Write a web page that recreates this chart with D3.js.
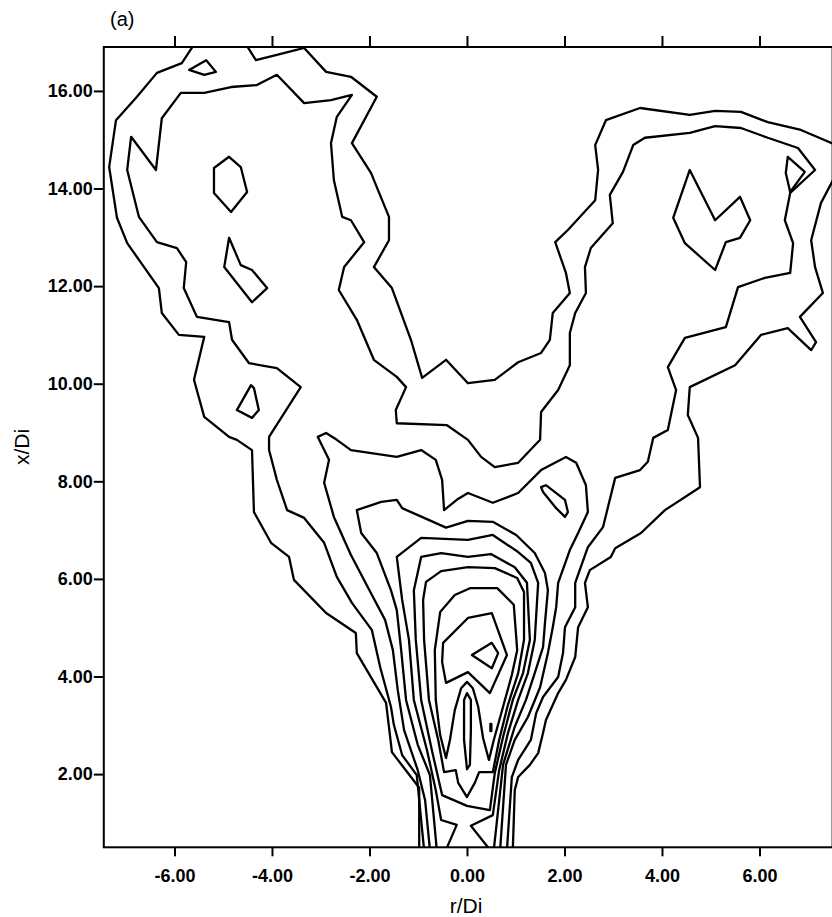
<!DOCTYPE html>
<html>
<head>
<meta charset="utf-8">
<script src="https://cdn.jsdelivr.net/npm/d3@7"></script>
<style>
  body { margin: 0; background: #fff; }
  svg { display: block; }
  .axis .tick text { font-family: "Liberation Sans", Arial, sans-serif; font-size: 18px; font-weight: bold; fill: #000; }
  .axis .tick line { stroke: #000; stroke-width: 2; }
  .contour { fill: none; stroke: #000; stroke-width: 2.3; stroke-linejoin: round; }
  .title { font-family: "Liberation Sans", Arial, sans-serif; font-size: 21px; fill: #000; }
</style>
</head>
<body>
<div id="chart"></div>
<script>
// Tick values
const xTicks = [-6, -4, -2, 0, 2, 4, 6];
const yTicks = [2, 4, 6, 8, 10, 12, 14, 16];

// Contour lines, [r/Di, x/Di]
const level1Left = [[-0.98,0.45],[-0.98,1.72],[-1.54,2.45],[-1.58,2.80],[-1.66,3.46],[-2.26,4.48],[-2.28,4.89],[-2.89,5.30],[-3.55,5.98],[-3.65,6.45],[-4.02,6.74],[-4.37,7.37],[-4.41,8.64],[-4.72,8.85],[-4.88,8.91],[-5.39,9.32],[-5.60,10.08],[-5.39,10.96],[-5.91,11.00],[-6.26,11.45],[-6.32,11.96],[-6.97,12.88],[-7.18,13.40],[-7.34,14.44],[-7.20,15.40],[-6.77,15.88],[-6.36,16.37],[-5.85,16.57],[-5.60,16.95]];
const level1Middle = [[-4.53,16.95],[-4.33,16.63],[-3.90,16.74],[-3.34,16.88],[-2.89,16.39],[-2.38,16.29],[-1.85,15.88],[-2.36,14.93],[-1.97,14.32],[-1.60,13.42],[-1.60,12.94],[-1.91,12.39],[-1.54,11.96],[-1.15,10.90],[-0.92,10.12],[-0.43,10.49],[0.02,10.01],[0.57,10.08],[1.05,10.44],[1.52,10.63],[1.70,10.90],[1.76,11.45],[2.11,11.86],[2.03,12.27],[1.81,12.90],[2.07,13.15],[2.63,13.76],[2.69,14.38],[2.63,14.89],[2.85,15.40],[3.55,15.65],[4.57,15.51],[5.09,15.59],[5.62,15.57],[6.17,15.36],[6.85,15.20],[7.55,14.90]];
const level1Right = [[7.55,14.25],[7.26,13.70],[7.06,12.94],[7.14,12.39],[7.30,11.86],[6.83,11.37],[7.16,10.85],[7.06,10.69],[6.58,11.14],[6.03,11.00],[5.50,10.38],[4.57,9.93],[4.53,9.36],[4.74,8.89],[4.78,7.88],[4.06,7.41],[3.57,6.94],[3.04,6.63],[2.95,6.45],[2.52,6.18],[2.42,5.92],[2.48,5.42],[2.28,5.01],[2.22,4.40],[2.03,3.93],[1.87,3.66],[1.62,3.11],[1.56,2.84],[1.46,2.43],[1.29,2.19],[1.05,1.94],[0.98,1.67],[0.94,0.45]];
const level2 = [[-0.88,0.45],[-1.03,1.98],[-1.33,2.39],[-1.50,3.01],[-1.56,3.38],[-1.78,4.19],[-1.95,4.95],[-2.36,5.51],[-2.67,6.04],[-2.93,6.74],[-3.34,7.25],[-3.69,7.41],[-3.90,8.03],[-4.06,8.64],[-4.06,8.91],[-3.41,9.93],[-3.90,10.32],[-4.47,10.42],[-4.82,10.90],[-4.88,11.26],[-5.54,11.37],[-5.81,11.96],[-5.76,12.49],[-5.95,12.78],[-6.36,12.90],[-6.73,13.42],[-6.97,14.38],[-6.89,15.06],[-6.38,14.38],[-6.26,15.44],[-5.87,15.96],[-5.39,15.96],[-4.84,16.08],[-4.31,16.12],[-3.90,16.33],[-3.34,15.75],[-2.79,15.81],[-2.36,15.92],[-2.67,15.47],[-2.79,14.93],[-2.73,14.17],[-2.56,13.42],[-2.38,13.35],[-2.11,12.90],[-2.52,12.39],[-2.63,11.92],[-2.26,11.31],[-1.91,10.49],[-1.44,10.14],[-1.25,9.93],[-1.46,9.46],[-1.44,9.19],[-0.41,9.15],[0.02,8.85],[0.29,8.50],[0.57,8.29],[1.05,8.38],[1.50,8.85],[1.52,9.42],[1.87,9.87],[2.11,10.38],[2.11,11.04],[2.22,11.45],[2.44,11.86],[2.42,12.39],[2.54,12.78],[2.99,13.29],[2.93,13.87],[3.20,14.34],[3.41,14.89],[3.65,15.04],[4.57,15.14],[5.09,15.28],[5.62,15.24],[6.17,15.04],[6.79,14.83],[7.14,14.38],[6.63,13.91],[6.52,13.35],[6.69,12.88],[6.63,12.27],[6.11,12.17],[5.56,11.98],[5.31,11.16],[4.47,10.94],[4.12,10.34],[4.29,9.87],[4.12,9.05],[3.82,8.89],[3.71,8.40],[3.55,8.23],[3.04,8.07],[2.79,7.06],[2.48,6.65],[2.22,5.92],[2.22,5.42],[2.01,5.01],[1.97,4.48],[1.87,3.99],[1.56,3.58],[1.42,3.25],[1.31,2.70],[1.05,2.29],[0.92,1.94],[0.82,0.45]];
const level3 = [[-0.76,0.45],[-0.86,1.47],[-1.01,2.08],[-1.29,2.90],[-1.42,3.72],[-1.52,4.54],[-1.68,5.16],[-1.95,5.67],[-2.38,6.49],[-2.73,7.27],[-2.93,7.97],[-2.83,8.44],[-3.06,8.91],[-2.89,8.99],[-2.67,8.85],[-2.38,8.64],[-1.44,8.50],[-0.94,8.64],[-0.64,8.44],[-0.51,8.03],[-0.47,7.41],[-0.21,7.62],[0.02,7.76],[0.53,7.56],[1.05,7.76],[1.52,8.23],[2.03,8.50],[2.24,8.38],[2.44,7.92],[2.48,7.37],[2.28,6.94],[2.11,6.59],[1.87,5.92],[1.83,5.42],[1.76,5.01],[1.66,4.48],[1.50,3.78],[1.25,3.17],[0.98,2.70],[0.80,2.19],[0.68,0.45]];
const level4 = [[-0.62,0.45],[-0.76,1.98],[-1.01,2.60],[-1.25,3.52],[-1.35,4.54],[-1.44,5.36],[-1.56,5.77],[-1.85,6.53],[-2.17,6.94],[-2.26,7.41],[-1.76,7.58],[-1.44,7.62],[-1.33,7.45],[-0.88,7.25],[-0.43,7.05],[0.02,7.19],[0.53,7.17],[1.01,6.90],[1.39,6.53],[1.60,6.12],[1.66,5.77],[1.60,5.10],[1.56,4.60],[1.39,4.07],[1.21,3.52],[0.98,2.97],[0.74,2.19],[0.55,0.45]];
const level5 = [[-0.43,0.45],[-0.21,0.96],[-0.53,1.06],[-0.64,1.67],[-0.82,2.49],[-1.09,3.52],[-1.19,4.75],[-1.33,5.57],[-1.44,6.45],[-0.94,6.84],[0.02,6.80],[0.53,6.90],[1.05,6.55],[1.31,6.33],[1.46,5.92],[1.39,4.75],[1.25,4.07],[1.05,3.52],[0.84,2.84],[0.66,2.08],[0.53,1.16],[0.08,0.94],[0.47,0.45]];
const level6 = [[-0.94,6.45],[-0.53,6.53],[0.02,6.45],[0.49,6.51],[0.98,6.24],[1.23,5.92],[1.29,4.75],[1.15,4.07],[0.94,3.52],[0.74,2.76],[0.57,2.02],[0.47,1.26],[0,1.35],[-0.51,1.57],[-0.72,2.49],[-0.94,3.52],[-1.05,4.75],[-1.09,5.77]];
const level7 = [[-0.84,5.94],[-0.53,6.16],[0.02,6.24],[0.57,6.22],[1.03,6.02],[1.17,5.73],[1.17,4.75],[1.05,4.07],[0.84,3.42],[0.66,2.70],[0.53,2.04],[0.25,2.04],[0.16,1.82],[0,1.53],[-0.18,1.82],[-0.23,2.08],[-0.47,2.04],[-0.59,2.70],[-0.78,3.52],[-0.88,4.75],[-0.90,5.57]];
const level8 = [[-0.55,5.32],[-0.25,5.67],[0.06,5.81],[0.62,5.81],[0.96,5.47],[1.03,4.54],[0.92,4.03],[0.74,3.38],[0.55,2.70],[0.45,2.29],[0.33,2.74],[0.23,3.38],[0.12,3.76],[0,3.89],[-0.12,3.76],[-0.25,3.31],[-0.35,2.70],[-0.43,2.33],[-0.55,2.80],[-0.64,3.52],[-0.66,4.54]];
const level9 = [[-0.49,4.69],[0.02,5.20],[0.51,5.30],[0.82,4.44],[0.47,3.66],[0.02,4.09],[-0.43,3.87],[-0.51,4.30]];
const level10 = [[0.10,4.44],[0.51,4.69],[0.64,4.48],[0.51,4.17]];
const needle = [[0,3.66],[0.08,3.52],[0.08,2.90],[0.06,2.19],[0,2.10],[-0.06,2.70],[-0.06,3.52]];
const dash = [[0.48,3.03],[0.50,3.03],[0.50,2.88],[0.48,2.88]];
const islandTopLeft = [[-5.70,16.43],[-5.35,16.63],[-5.15,16.39],[-5.39,16.33]];
const islandHex = [[-5.19,14.42],[-4.88,14.65],[-4.64,14.44],[-4.51,13.93],[-4.84,13.52],[-5.19,13.91]];
const islandSliver = [[-4.88,12.99],[-4.64,12.43],[-4.41,12.33],[-4.10,11.96],[-4.41,11.67],[-4.98,12.39]];
const islandLow = [[-4.72,9.46],[-4.43,9.97],[-4.37,9.91],[-4.27,9.46],[-4.41,9.30]];
const islandHeart = [[4.23,13.40],[4.57,14.38],[5.09,13.35],[5.60,13.83],[5.81,13.35],[5.60,12.99],[5.31,12.90],[5.09,12.33],[4.47,12.88]];
const islandRight = [[6.58,14.65],[6.93,14.34],[6.63,13.93],[6.54,14.32]];
const islandOval = [[1.52,7.88],[1.62,7.92],[2.01,7.62],[2.07,7.37],[2.01,7.27],[1.83,7.45],[1.56,7.78]];

const openLines = [level1Left, level1Middle, level1Right, level2, level3, level4, level5];
const closedLines = [level6, level7, level8, level9, level10, needle, dash,
  islandTopLeft, islandHex, islandSliver, islandLow, islandHeart, islandRight, islandOval];

const width = 832, height = 917;

var svg = d3.select("#chart").append("svg")
  .attr("width", width)
  .attr("height", height);

var x = d3.scaleLinear().domain([-7.45, 7.5]).range([103.8, 832.6]);
var y = d3.scaleLinear().domain([0.5, 16.9]).range([847.3, 47]);

// clip the contours to the plot frame
svg.append("clipPath").attr("id", "plot-clip")
  .append("rect")
  .attr("x", x(-7.45))
  .attr("y", y(16.9))
  .attr("width", x(7.5) - x(-7.45))
  .attr("height", y(0.5) - y(16.9));

var line = d3.line().x(d => x(d[0])).y(d => y(d[1]));
var loop = d3.line().x(d => x(d[0])).y(d => y(d[1])).curve(d3.curveLinearClosed);

var g = svg.append("g").attr("clip-path", "url(#plot-clip)");

g.selectAll(".open")
  .data(openLines)
  .enter().append("path")
  .attr("class", "contour open")
  .attr("d", line);

g.selectAll(".closed")
  .data(closedLines)
  .enter().append("path")
  .attr("class", "contour closed")
  .attr("d", loop);

// frame
svg.append("rect")
  .attr("x", x(-7.45))
  .attr("y", y(16.9))
  .attr("width", x(7.5) - x(-7.45))
  .attr("height", y(0.5) - y(16.9))
  .attr("fill", "none")
  .attr("stroke", "#000")
  .attr("stroke-width", 2);

// axes
svg.append("g")
  .attr("class", "axis")
  .attr("transform", "translate(0," + y(0.5) + ")")
  .call(d3.axisBottom(x).tickValues(xTicks).tickFormat(d => d.toFixed(2)).tickSize(9).tickPadding(13).tickSizeOuter(0))
  .call(a => a.select(".domain").remove());

svg.append("g")
  .attr("class", "axis")
  .attr("transform", "translate(0," + y(16.9) + ")")
  .call(d3.axisTop(x).tickValues(xTicks).tickFormat("").tickSize(11).tickSizeOuter(0))
  .call(a => a.select(".domain").remove());

svg.append("g")
  .attr("class", "axis")
  .attr("transform", "translate(" + x(-7.45) + ",0)")
  .call(d3.axisLeft(y).tickValues(yTicks).tickFormat(d => d.toFixed(2)).tickSize(10).tickPadding(1).tickSizeOuter(0))
  .call(a => a.select(".domain").remove());

// titles
svg.append("text")
  .attr("class", "title")
  .attr("x", 466)
  .attr("y", 913)
  .attr("text-anchor", "middle")
  .text("r/Di");

svg.append("text")
  .attr("class", "title")
  .attr("transform", "translate(29,447) rotate(-90)")
  .attr("text-anchor", "middle")
  .text("x/Di");

svg.append("text")
  .attr("class", "title")
  .attr("x", 110)
  .attr("y", 26)
  .style("font-size", "20px")
  .text("(a)");
</script>
</body>
</html>
